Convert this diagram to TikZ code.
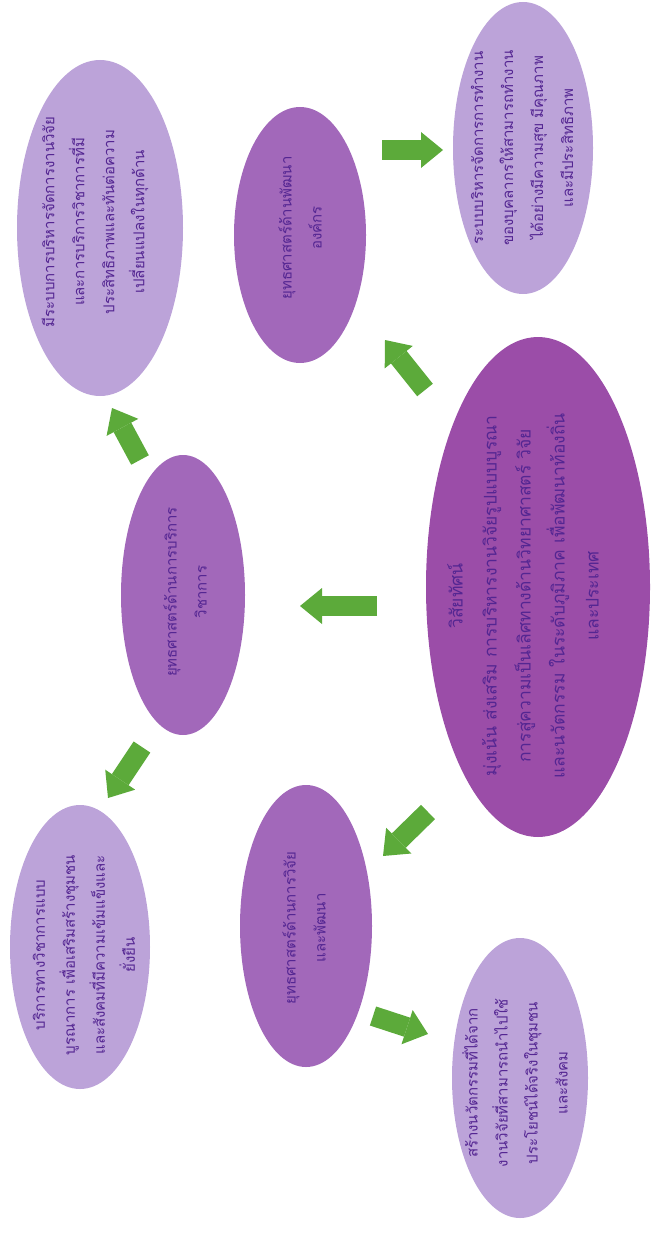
\documentclass[tikz,border=0pt]{standalone}
\usepackage{fontspec}
\newfontfamily\thaifont[Script=Thai]{Loma}
\usetikzlibrary{shapes,arrows.meta,positioning,calc}

\definecolor{visionpurple}{RGB}{155,77,168}
\definecolor{stratpurple}{RGB}{162,104,186}
\definecolor{goallilac}{RGB}{188,163,217}
\definecolor{arrowgreen}{RGB}{92,170,58}
\definecolor{thaiink}{RGB}{84,38,146}

\begin{document}
\begin{tikzpicture}[x=1pt, y=-1pt,
    oval/.style={ellipse, draw=none, inner sep=0pt},
    thaitext/.style={rotate=90, align=center, text=thaiink, inner sep=0pt,
        font=\thaifont\fontsize{15}{30}\selectfont},
    greenarrow/.style={draw=arrowgreen, line width=20pt,
        -{Triangle[width=36pt, length=22pt, line width=0pt, fill=arrowgreen]}}]
    \useasboundingbox (0,0) rectangle (652,1236);

    % vision
    \node[oval, fill=visionpurple, minimum width=224pt, minimum height=500pt] (vision) at (538,587) {};
    \node[thaitext, font=\thaifont\fontsize{17.5}{34}\selectfont] (visiontxt) at (523,596) {วิสัยทัศน์\\
        มุ่งเน้น ส่งเสริม การบริหารงานวิจัยรูปแบบบูรณา\\
        การสู่ความเป็นเลิศทางด้านวิทยาศาสตร์ วิจัย\\
        และนวัตกรรม ในระดับภูมิภาค เพื่อพัฒนาท้องถิ่น\\
        และประเทศ};

    % strategies
    \node[oval, fill=stratpurple, minimum width=132pt, minimum height=256pt] (org) at (300,235) {};
    \node[thaitext] (orgtxt) at (300,228) {ยุทธศาสตร์ด้านพัฒนา\\องค์กร};

    \node[oval, fill=stratpurple, minimum width=124pt, minimum height=280pt] (service) at (183,595) {};
    \node[thaitext] (servicetxt) at (185,592) {ยุทธศาสตร์ด้านการบริการ\\วิชาการ};

    \node[oval, fill=stratpurple, minimum width=132pt, minimum height=282pt] (research) at (306,926) {};
    \node[thaitext] (researchtxt) at (304,928) {ยุทธศาสตร์ด้านการวิจัย\\และพัฒนา};

    % goals
    \node[oval, fill=goallilac, minimum width=140pt, minimum height=292pt] (orggoal) at (523,148) {};
    \node[thaitext] (orggoaltxt) at (522,148) {ระบบบริหารจัดการการทำงาน\\
        ของบุคลากรให้สามารถทำงาน\\
        ได้อย่างมีความสุข มีคุณภาพ\\
        และมีประสิทธิภาพ};

    \node[oval, fill=goallilac, minimum width=166pt, minimum height=336pt] (servicegoal) at (100,228) {};
    \node[thaitext] (servicegoaltxt) at (95,222) {มีระบบการบริหารจัดการงานวิจัย\\
        และการบริการวิชาการที่มี\\
        ประสิทธิภาพและทันต่อความ\\
        เปลี่ยนแปลงในทุกด้าน};

    \node[oval, fill=goallilac, minimum width=140pt, minimum height=284pt] (communitygoal) at (80,947) {};
    \node[thaitext] (communitygoaltxt) at (84,955) {บริการทางวิชาการแบบ\\
        บูรณาการ เพื่อเสริมสร้างชุมชน\\
        และสังคมที่มีความเข้มแข็งและ\\
        ยั่งยืน};

    \node[oval, fill=goallilac, minimum width=136pt, minimum height=280pt] (researchgoal) at (520,1078) {};
    \node[thaitext] (researchgoaltxt) at (515,1083) {สร้างนวัตกรรมที่ได้จาก\\
        งานวิจัยที่สามารถนำไปใช้\\
        ประโยชน์ได้จริงในชุมชน\\
        และสังคม};

    % arrow ends
    \coordinate (v2s) at (377,606);  \coordinate (s-in) at (300,606);
    \coordinate (v2o) at (425,390);  \coordinate (o-in) at (385,340);
    \coordinate (v2r) at (428,812);  \coordinate (r-in) at (383,856);
    \coordinate (o2g) at (382,150);  \coordinate (og-in) at (443,150);
    \coordinate (s2g) at (140,460);  \coordinate (sg-in) at (112,408);
    \coordinate (s2c) at (142,747);  \coordinate (sc-in) at (108,798);
    \coordinate (r2g) at (373,1016); \coordinate (rg-in) at (428,1034);

    \draw[greenarrow] (v2s) -- (s-in);
    \draw[greenarrow] (v2o) -- (o-in);
    \draw[greenarrow] (v2r) -- (r-in);
    \draw[greenarrow] (o2g) -- (og-in);
    \draw[greenarrow] (s2g) -- (sg-in);
    \draw[greenarrow] (s2c) -- (sc-in);
    \draw[greenarrow] (r2g) -- (rg-in);
\end{tikzpicture}
\end{document}
